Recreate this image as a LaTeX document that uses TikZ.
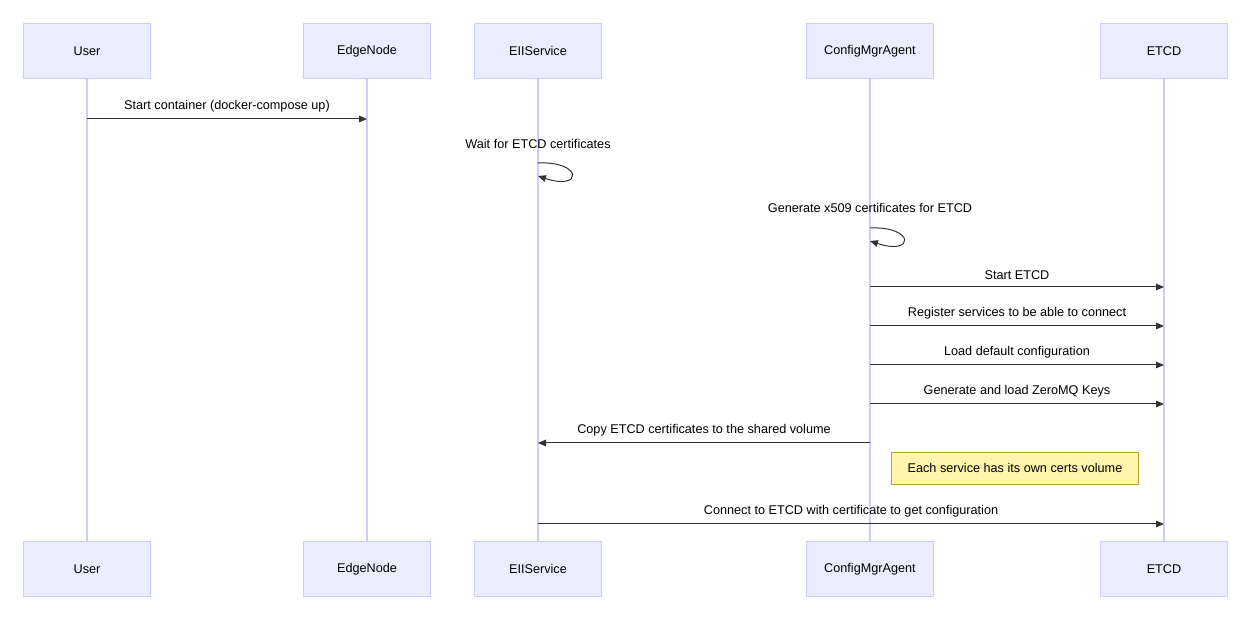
\documentclass[tikz,border=0pt]{standalone}
\usepackage{fontspec}
\setmainfont{Liberation Sans}
\usetikzlibrary{arrows.meta,positioning}
\definecolor{actfill}{HTML}{ECECFF}
\definecolor{actdraw}{HTML}{CCCCFF}
\definecolor{notefill}{HTML}{FFF5AD}
\definecolor{notedraw}{HTML}{AAAA33}
\definecolor{ink}{HTML}{333333}
\begin{document}
\begin{tikzpicture}[x=0.75pt,y=-0.75pt,
  actor/.style={draw=actdraw,fill=actfill,minimum width=127*0.75pt,minimum height=55*0.75pt,inner sep=0pt,font=\fontsize{9.5}{11}\selectfont},
  life/.style={draw=actdraw,line width=1.1pt},
  msg/.style={draw=ink,line width=0.75pt,-{Triangle[length=6pt,width=5pt]}},
  lbl/.style={font=\fontsize{9.5}{11}\selectfont,text=black,inner sep=1pt},
  note/.style={draw=notedraw,fill=notefill,minimum width=247*0.75pt,minimum height=32*0.75pt,inner sep=0pt,font=\fontsize{9.5}{11}\selectfont}]
\useasboundingbox (0,0) rectangle (1258,630);
% actors top and bottom
\foreach \n/\t/\x in {user/User/87,edge/EdgeNode/367,eii/EIIService/538,cma/ConfigMgrAgent/870,etcd/ETCD/1164}{
  \node[actor] (\n top) at (\x,51) {\t};
  \node[actor] (\n bot) at (\x,569) {\t};
  \draw[life] (\n top.south) -- (\n bot.north);
}
% message points
\coordinate (m1a) at (87,119);  \coordinate (m1b) at (367,119);
\coordinate (s1) at (538,163);
\coordinate (s2) at (870,228);
\coordinate (m3a) at (870,287); \coordinate (m3b) at (1164,287);
\coordinate (m4a) at (870,326); \coordinate (m4b) at (1164,326);
\coordinate (m5a) at (870,365); \coordinate (m5b) at (1164,365);
\coordinate (m6a) at (870,404); \coordinate (m6b) at (1164,404);
\coordinate (m7a) at (870,443); \coordinate (m7b) at (538,443);
\coordinate (m8a) at (538,524); \coordinate (m8b) at (1164,524);

\draw[msg] (m1a) -- node[lbl,above=4pt] {Start container (docker-compose up)} (m1b);
\node[lbl] (w1) at (538,144) {Wait for ETCD certificates};
\draw[msg] (s1) .. controls ++(45,-2) and ++(45,15) .. ++(0,13);
\node[lbl] (w2) at (870,208) {Generate x509 certificates for ETCD};
\draw[msg] (s2) .. controls ++(45,-2) and ++(45,15) .. ++(0,13);
\draw[msg] (m3a) -- node[lbl,above=4pt] {Start ETCD} (m3b);
\draw[msg] (m4a) -- node[lbl,above=4pt] {Register services to be able to connect} (m4b);
\draw[msg] (m5a) -- node[lbl,above=4pt] {Load default configuration} (m5b);
\draw[msg] (m6a) -- node[lbl,above=4pt] {Generate and load ZeroMQ Keys} (m6b);
\draw[msg] (m7a) -- node[lbl,above=4pt] {Copy ETCD certificates to the shared volume} (m7b);
\node[note] (certs) at (1015,468) {Each service has its own certs volume};
\draw[msg] (m8a) -- node[lbl,above=4pt] {Connect to ETCD with certificate to get configuration} (m8b);
\end{tikzpicture}
\end{document}
